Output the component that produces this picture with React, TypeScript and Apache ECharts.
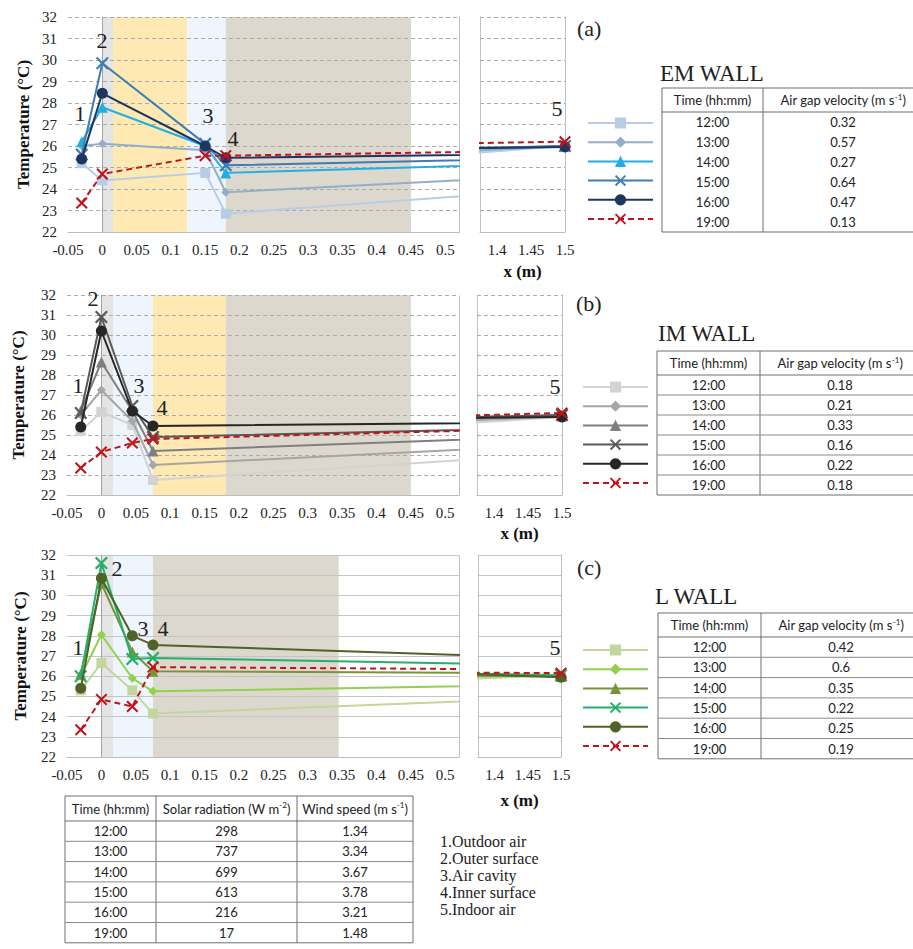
import React, { useEffect, useRef } from "react";
import * as echarts from "echarts";

// ---------------- data ----------------
const times = ["12:00", "13:00", "14:00", "15:00", "16:00", "19:00"];
const pointLabels = ["1", "2", "3", "4", "5"];

const emX = [-0.03, 0, 0.15, 0.18, 1.5];
const emTemps = [
  [25.2, 24.4, 24.75, 22.85, 26.0],
  [26.0, 26.1, 25.8, 23.85, 26.0],
  [26.2, 27.8, 26.0, 24.75, 26.0],
  [25.6, 29.85, 26.1, 25.1, 26.0],
  [25.4, 28.45, 26.0, 25.45, 25.95],
  [23.35, 24.7, 25.55, 25.55, 26.2],
];
const emLayers = [[0, 0.0156], [0.0156, 0.124], [0.124, 0.18], [0.18, 0.45]];
const emVelocity = ["0.32", "0.57", "0.27", "0.64", "0.47", "0.13"];

const imX = [-0.03, 0, 0.045, 0.075, 1.5];
const imTemps = [
  [25.2, 26.15, 25.5, 22.75, 25.9],
  [26.0, 27.25, 25.7, 23.5, 25.95],
  [26.2, 28.65, 26.2, 24.2, 26.0],
  [26.1, 30.9, 26.45, 24.9, 26.0],
  [25.4, 30.2, 26.2, 25.45, 25.9],
  [23.35, 24.15, 24.6, 24.8, 26.1],
];
const imLayers = [[0, 0.017], [0.017, 0.075], [0.075, 0.181], [0.181, 0.45]];
const imVelocity = ["0.18", "0.21", "0.33", "0.16", "0.22", "0.18"];

const lX = [-0.03, 0, 0.045, 0.075, 1.5];
const lTemps = [
  [25.3, 26.65, 25.3, 24.15, 26.05],
  [26.0, 28.05, 25.9, 25.25, 26.05],
  [26.1, 30.6, 27.2, 26.25, 26.0],
  [26.0, 31.6, 26.85, 26.9, 26.05],
  [25.4, 30.85, 28.0, 27.55, 25.95],
  [23.35, 24.85, 24.5, 26.45, 26.15],
];
const lLayers = [[0, 0.017], [0.017, 0.075], [0.075, 0.345]];
const lVelocity = ["0.42", "0.6", "0.35", "0.22", "0.25", "0.19"];

const solarRadiation = ["298", "737", "699", "613", "216", "17"];
const windSpeed = ["1.34", "3.34", "3.67", "3.78", "3.21", "1.48"];
const locationNames = ["1.Outdoor air", "2.Outer surface", "3.Air cavity", "4.Inner surface", "5.Indoor air"];

// ---------------- styles / layout ----------------
const SERIF = "'Liberation Serif', 'DejaVu Serif', serif";
const SANS = "Lato, 'Liberation Sans', sans-serif";
const TXT = "#222";
const X_PATH = "path://M0,1.2 L1.2,0 L5,3.8 L8.8,0 L10,1.2 L6.2,5 L10,8.8 L8.8,10 L5,6.2 L1.2,10 L0,8.8 L3.8,5 Z";
const markerSymbols = ["rect", "diamond", "triangle", X_PATH, "circle", X_PATH];
const markerSizes = [10, 9, 11, 13, 11, 12];
const RED = "#c0141c";

const GRAY = "#e4e4e4", YEL = "#fde9b1", LBLUE = "#eef5fc", BEIGE = "#dcd8cd";

const panels = [
  {
    key: "EM", title: "EM WALL", tag: "(a)", xs: emX, temps: emTemps, layers: emLayers,
    layerColors: [GRAY, YEL, LBLUE, BEIGE],
    colors: ["#b8cde4", "#93aecb", "#22aee2", "#3d7db3", "#1e3461", RED],
    velocity: emVelocity, dashed: true,
    L: { x: 68, y: 17, w: 391, h: 215 }, R: { x: 480, w: 85 },
    yNameGap: 36, xNameGap: 31,
    legend: { x: 582, y: 111 }, table: { x: 662, y: 88, rowH: 20, rowLines: false },
    titlePos: [660, 73], tagPos: [577, 28],
    nums: [[80, 113], [102, 40], [208, 115], [233, 138], [557, 108]],
  },
  {
    key: "IM", title: "IM WALL", tag: "(b)", xs: imX, temps: imTemps, layers: imLayers,
    layerColors: [GRAY, LBLUE, YEL, BEIGE],
    colors: ["#d3d3d3", "#a6a6a6", "#7f7f7f", "#595959", "#262626", RED],
    velocity: imVelocity, dashed: true,
    L: { x: 67, y: 295, w: 392, h: 200 }, R: { x: 477, w: 85 },
    yNameGap: 40, xNameGap: 30,
    legend: { x: 577, y: 375 }, table: { x: 657, y: 351, rowH: 20, rowLines: true },
    titlePos: [658, 333], tagPos: [576, 303],
    nums: [[78, 385], [93, 298], [139, 385], [162, 407], [555, 386]],
  },
  {
    key: "L", title: "L WALL", tag: "(c)", xs: lX, temps: lTemps, layers: lLayers,
    layerColors: [GRAY, LBLUE, BEIGE],
    colors: ["#c3d69b", "#92d050", "#77933c", "#22b06a", "#4f6228", RED],
    velocity: lVelocity, dashed: false,
    L: { x: 67, y: 555, w: 392, h: 202 }, R: { x: 478, w: 83 },
    yNameGap: 38, xNameGap: 35,
    legend: { x: 577, y: 638 }, table: { x: 658, y: 613, rowH: 20.3, rowLines: true },
    titlePos: [655, 596], tagPos: [577, 567],
    nums: [[78, 647], [117, 568], [143, 628], [163, 628], [555, 647]],
  },
];

const isMultiple = (v: number, step: number) => Math.abs(v / step - Math.round(v / step)) < 1e-6;
const fmtX = (v: number) => (isMultiple(v, 0.05) ? String(+v.toFixed(2)) : "");

const axisLabelStyle = { fontFamily: SERIF, fontSize: 15, color: TXT };

function tableGraphics(
  x: number, y: number, colW: number[], headerH: number, rowH: number,
  header: string[], rows: string[][], rowLines: boolean, rich: any
) {
  const els: any[] = [];
  const totalW = colW.reduce((a, b) => a + b, 0);
  const totalH = headerH + rowH * rows.length;
  const stroke = "#6f6f6f";
  els.push({ type: "rect", shape: { x, y, width: totalW, height: totalH }, style: { fill: "#fff", stroke, lineWidth: 1 }, silent: true });
  let cx = x;
  colW.forEach((w, i) => {
    if (i > 0) els.push({ type: "line", shape: { x1: cx, y1: y, x2: cx, y2: y + totalH }, style: { stroke, lineWidth: 1 }, silent: true });
    els.push({
      type: "text", x: cx + w / 2, y: y + headerH / 2, silent: true,
      style: { text: header[i], rich, fontFamily: SANS, fontSize: 13, fill: TXT, align: "center", verticalAlign: "middle" },
    });
    rows.forEach((r, k) => {
      els.push({
        type: "text", x: cx + w / 2, y: y + headerH + rowH * k + rowH / 2, silent: true,
        style: { text: r[i], fontFamily: SANS, fontSize: 13, fill: TXT, align: "center", verticalAlign: "middle" },
      });
    });
    cx += w;
  });
  els.push({ type: "line", shape: { x1: x, y1: y + headerH, x2: x + totalW, y2: y + headerH }, style: { stroke, lineWidth: 1 }, silent: true });
  if (rowLines) {
    rows.forEach((_, k) => {
      if (k === 0) return;
      const yy = y + headerH + rowH * k;
      els.push({ type: "line", shape: { x1: x, y1: yy, x2: x + totalW, y2: yy }, style: { stroke: "#8a8a8a", lineWidth: 1 }, silent: true });
    });
  }
  return els;
}

const supRich = { sup: { fontFamily: SANS, fontSize: 8, fill: TXT, padding: [0, 0, 7, 0] } };

function buildOption() {
  const grid: any[] = [], xAxis: any[] = [], yAxis: any[] = [], series: any[] = [], legend: any[] = [], graphic: any[] = [];

  panels.forEach((p, pi) => {
    const gl = pi * 2, gr = pi * 2 + 1;
    grid.push({ left: p.L.x, top: p.L.y, width: p.L.w, height: p.L.h });
    grid.push({ left: p.R.x, top: p.L.y, width: p.R.w, height: p.L.h });
    const split = p.dashed
      ? { show: true, lineStyle: { type: [4, 3], color: "#ababab", width: 1 } }
      : { show: true, lineStyle: { type: "solid", color: "#c4c4c4", width: 1 } };

    xAxis.push({
      gridIndex: gl, type: "value", min: -0.05, max: 0.52, interval: 0.05, z: 3,
      axisLine: { show: true, lineStyle: { color: "#bdbdbd" } }, axisTick: { show: false },
      splitLine: { show: false }, axisLabel: { ...axisLabelStyle, formatter: fmtX, margin: 10 },
    });
    xAxis.push({
      gridIndex: gr, type: "value", min: 1.375, max: 1.5, interval: 0.025, z: 3,
      axisLine: { show: true, lineStyle: { color: "#bdbdbd" } }, axisTick: { show: false },
      splitLine: { show: false }, axisLabel: { ...axisLabelStyle, formatter: fmtX, margin: 10 },
      name: "x (m)", nameLocation: "middle", nameGap: p.xNameGap,
      nameTextStyle: { fontFamily: SERIF, fontSize: 17, fontWeight: "bold", color: "#111" },
    });
    yAxis.push({
      gridIndex: gl, type: "value", min: 22, max: 32, interval: 1, position: "left", z: 3,
      axisLine: { show: true, lineStyle: { color: "#bdbdbd" } }, axisTick: { show: false },
      splitLine: split, axisLabel: { ...axisLabelStyle, margin: 11 },
      name: "Temperature (°C)", nameLocation: "middle", nameGap: p.yNameGap,
      nameTextStyle: { fontFamily: SERIF, fontSize: 17, fontWeight: "bold", color: "#111" },
    });
    yAxis.push({
      gridIndex: gl, type: "value", min: 22, max: 32, interval: 1, position: "right", z: 3,
      axisLine: { show: true, lineStyle: { color: "#b5b5b5", type: "dotted" } },
      axisTick: { show: false }, axisLabel: { show: false }, splitLine: { show: false },
    });
    yAxis.push({
      gridIndex: gr, type: "value", min: 22, max: 32, interval: 1, position: "left", z: 3,
      axisLine: { show: true, lineStyle: { color: "#b5b5b5", type: "dotted" } },
      axisTick: { show: false }, axisLabel: { show: false }, splitLine: split,
    });
    yAxis.push({
      gridIndex: gr, type: "value", min: 22, max: 32, interval: 1, position: "right", z: 3,
      axisLine: { show: true, lineStyle: { color: "#bdbdbd" } },
      axisTick: { show: false }, axisLabel: { show: false }, splitLine: { show: false },
    });

    // layer shading + x = 0 line
    series.push({
      type: "line", xAxisIndex: gl, yAxisIndex: pi * 4, data: [], silent: true, z: 1,
      markArea: {
        silent: true, z: 1,
        data: p.layers.map((l, i) => [{ xAxis: l[0], itemStyle: { color: p.layerColors[i], opacity: 1 } }, { xAxis: l[1] }]),
      },
      markLine: {
        silent: true, z: 4, symbol: ["none", "none"], label: { show: false },
        lineStyle: { color: "#a3a3a3", type: "solid", width: 1 }, data: [{ xAxis: 0 }],
      },
    });

    const names: string[] = [];
    p.temps.forEach((vals, i) => {
      const name = `${p.key} ${times[i]}`;
      names.push(name);
      const color = p.colors[i];
      const data = p.xs.map((x, k) => [x, vals[k]]);
      const common = {
        type: "line", name, data, symbol: markerSymbols[i], symbolSize: markerSizes[i],
        showSymbol: true, color, clip: true, silent: true, z: 6 + i,
        lineStyle: { width: 2, color, type: i === 5 ? [6, 4] : "solid" },
        itemStyle: { color }, emphasis: { disabled: true },
      };
      series.push({ ...common, xAxisIndex: gl, yAxisIndex: pi * 4 });
      series.push({ ...common, xAxisIndex: gr, yAxisIndex: pi * 4 + 2 });
    });

    legend.push({
      data: names, orient: "vertical", left: p.legend.x, top: p.legend.y,
      itemWidth: 65, itemHeight: 14, itemGap: 6.6, selectedMode: false,
      formatter: () => "", textStyle: { fontSize: 8 },
    });

    // texts
    graphic.push({
      type: "text", x: p.tagPos[0], y: p.tagPos[1], silent: true,
      style: { text: p.tag, fontFamily: SERIF, fontSize: 22, fill: TXT, align: "left", verticalAlign: "middle" },
    });
    graphic.push({
      type: "text", x: p.titlePos[0], y: p.titlePos[1], silent: true,
      style: { text: p.title, fontFamily: SERIF, fontSize: 23, fill: TXT, align: "left", verticalAlign: "middle" },
    });
    p.nums.forEach((pos, k) => {
      graphic.push({
        type: "text", x: pos[0], y: pos[1], silent: true, z: 20,
        style: { text: pointLabels[k], fontFamily: SERIF, fontSize: 22, fill: TXT, align: "center", verticalAlign: "middle" },
      });
    });
    const rows = times.map((t, k) => [t, p.velocity[k]]);
    graphic.push(
      ...tableGraphics(p.table.x, p.table.y, [p.table.x === 662 ? 101 : 103, 160], 24, p.table.rowH,
        ["Time (hh:mm)", "Air gap velocity (m s{sup|-1})"], rows, p.table.rowLines, supRich)
    );
  });

  // bottom table
  const bRows = times.map((t, k) => [t, solarRadiation[k], windSpeed[k]]);
  graphic.push(
    ...tableGraphics(65, 796, [91, 141, 116], 25, 20.3,
      ["Time (hh:mm)", "Solar radiation (W m{sup|-2})", "Wind speed (m s{sup|-1})"], bRows, true, supRich)
  );
  locationNames.forEach((n, k) => {
    graphic.push({
      type: "text", x: 440, y: 841 + k * 17, silent: true,
      style: { text: n, fontFamily: SERIF, fontSize: 16, lineHeight: 16, fill: TXT, align: "left", verticalAlign: "middle" },
    });
  });

  return {
    animation: false,
    backgroundColor: "#ffffff",
    grid, xAxis, yAxis, series, legend, graphic,
  };
}

export default function App() {
  const ref = useRef<HTMLDivElement>(null);
  useEffect(() => {
    const chart = echarts.init(ref.current!, null, { renderer: "svg" });
    chart.setOption(buildOption() as any);
    return () => chart.dispose();
  }, []);
  return <div ref={ref} style={{ position: "absolute", left: 0, top: 0, width: 913, height: 949 }} />;
}
